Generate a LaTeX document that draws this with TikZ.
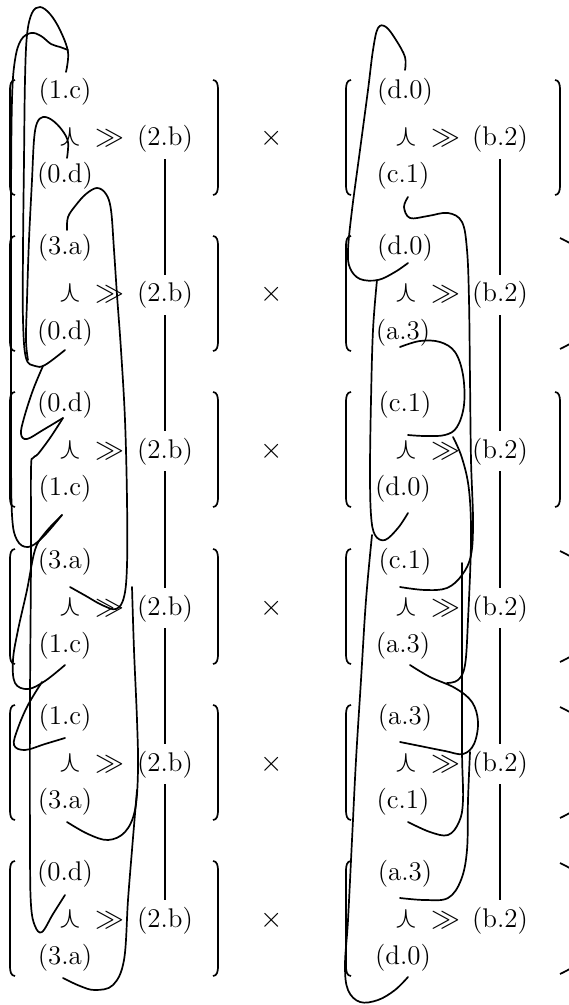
\documentclass[tikz,border=0pt]{standalone}
\usepackage{amsmath,amssymb}
\usepackage{tikz}
\usetikzlibrary{positioning}

\begin{document}
\begin{tikzpicture}[
  x=0.5pt, y=-0.5pt,
  lab/.style={font=\fontsize{13.5}{16}\selectfont, inner sep=3pt, anchor=base},
  sym/.style={font=\fontsize{15.5}{18}\selectfont, inner sep=3pt, anchor=base},
  strand/.style={line width=0.85pt, line cap=round, line join=round},
  brk/.style={line width=0.85pt},
  link/.style={line width=0.85pt}
]
\useasboundingbox (0,0) rectangle (568,1005);

% row 1
\node[lab] (l1t) at (65,99) {(1.c)};
\node[sym] (l1w) at (70,146) {$\curlywedge$};
\node[sym] (l1g) at (110,146) {$\gg$};
\node[lab] (l1r) at (165,146) {(2.b)};
\node[lab] (l1b) at (65,183) {(0.d)};
\node[sym] (x1) at (272,146) {$\times$};
\node[lab] (r1t) at (405,99) {(d.0)};
\node[sym] (r1w) at (406,146) {$\curlywedge$};
\node[sym] (r1g) at (446,146) {$\gg$};
\node[lab] (r1r) at (500,146) {(b.2)};
\node[lab] (r1b) at (403,183) {(c.1)};
% row 2
\node[lab] (l2t) at (65,255) {(3.a)};
\node[sym] (l2w) at (70,302) {$\curlywedge$};
\node[sym] (l2g) at (110,302) {$\gg$};
\node[lab] (l2r) at (165,302) {(2.b)};
\node[lab] (l2b) at (65,339) {(0.d)};
\node[sym] (x2) at (272,302) {$\times$};
\node[lab] (r2t) at (405,255) {(d.0)};
\node[sym] (r2w) at (406,302) {$\curlywedge$};
\node[sym] (r2g) at (446,302) {$\gg$};
\node[lab] (r2r) at (500,302) {(b.2)};
\node[lab] (r2b) at (403,339) {(a.3)};
% row 3
\node[lab] (l3t) at (65,411) {(0.d)};
\node[sym] (l3w) at (70,458) {$\curlywedge$};
\node[sym] (l3g) at (110,458) {$\gg$};
\node[lab] (l3r) at (165,458) {(2.b)};
\node[lab] (l3b) at (65,495) {(1.c)};
\node[sym] (x3) at (272,458) {$\times$};
\node[lab] (r3t) at (405,411) {(c.1)};
\node[sym] (r3w) at (406,458) {$\curlywedge$};
\node[sym] (r3g) at (446,458) {$\gg$};
\node[lab] (r3r) at (500,458) {(b.2)};
\node[lab] (r3b) at (403,495) {(d.0)};
% row 4
\node[lab] (l4t) at (65,568) {(3.a)};
\node[sym] (l4w) at (70,615) {$\curlywedge$};
\node[sym] (l4g) at (110,615) {$\gg$};
\node[lab] (l4r) at (165,615) {(2.b)};
\node[lab] (l4b) at (65,652) {(1.c)};
\node[sym] (x4) at (272,615) {$\times$};
\node[lab] (r4t) at (405,568) {(c.1)};
\node[sym] (r4w) at (406,615) {$\curlywedge$};
\node[sym] (r4g) at (446,615) {$\gg$};
\node[lab] (r4r) at (500,615) {(b.2)};
\node[lab] (r4b) at (403,652) {(a.3)};
% row 5
\node[lab] (l5t) at (65,724) {(1.c)};
\node[sym] (l5w) at (70,771) {$\curlywedge$};
\node[sym] (l5g) at (110,771) {$\gg$};
\node[lab] (l5r) at (165,771) {(2.b)};
\node[lab] (l5b) at (65,808) {(3.a)};
\node[sym] (x5) at (272,771) {$\times$};
\node[lab] (r5t) at (405,724) {(a.3)};
\node[sym] (r5w) at (406,771) {$\curlywedge$};
\node[sym] (r5g) at (446,771) {$\gg$};
\node[lab] (r5r) at (500,771) {(b.2)};
\node[lab] (r5b) at (403,808) {(c.1)};
% row 6
\node[lab] (l6t) at (65,880) {(0.d)};
\node[sym] (l6w) at (70,927) {$\curlywedge$};
\node[sym] (l6g) at (110,927) {$\gg$};
\node[lab] (l6r) at (165,927) {(2.b)};
\node[lab] (l6b) at (65,964) {(3.a)};
\node[sym] (x6) at (272,927) {$\times$};
\node[lab] (r6t) at (405,880) {(a.3)};
\node[sym] (r6w) at (406,927) {$\curlywedge$};
\node[sym] (r6g) at (446,927) {$\gg$};
\node[lab] (r6r) at (500,927) {(b.2)};
\node[lab] (r6b) at (403,964) {(d.0)};

% brackets
\foreach \m in {140,296,452,609,765,921} {
  \draw[brk] (15,\m-60) to[out=180,in=90] (10,\m-51) -- (10,\m+46) to[out=-90,in=180] (15,\m+55);
  \draw[brk] (213,\m-60) to[out=0,in=90] (218,\m-51) -- (218,\m+46) to[out=-90,in=0] (213,\m+55);
  \draw[brk] (351,\m-60) to[out=180,in=90] (346,\m-51) -- (346,\m+46) to[out=-90,in=180] (351,\m+55);
}
\foreach \m in {140,452} {
  \draw[brk] (555,\m-60) to[out=0,in=90] (560,\m-51) -- (560,\m+46) to[out=-90,in=0] (555,\m+55);
}
\foreach \m in {296,609,765,921} {
  \draw[brk] (560,\m-58) .. controls (620,\m-30) and (620,\m+25) .. (560,\m+53);
}

% links between the (2.b) and (b.2) nodes
\draw[link] (l1r) -- (l2r);
\draw[link] (l2r) -- (l3r);
\draw[link] (l3r) -- (l4r);
\draw[link] (l4r) -- (l5r);
\draw[link] (l5r) -- (l6r);
\draw[link] (r1r) -- (r2r);
\draw[link] (r2r) -- (r3r);
\draw[link] (r3r) -- (r4r);
\draw[link] (r4r) -- (r5r);
\draw[link] (r5r) -- (r6r);

% strands, left factor
\draw[strand] plot[smooth, tension=0.6] coordinates {(66,72) (68,52) (60,30) (50,14) (40,7) (32,13) (27,35) (25,80) (24,160) (23,250) (23,320) (26,358) (35,366) (45,365) (65,350)};
\draw[strand] plot[smooth, tension=0.6] coordinates {(68,50) (60,47) (51,44) (41,36) (31,33) (21,40) (15,60) (12,100) (11,200) (11,320) (11,440) (12,515) (17,540) (28,547) (42,538) (62,515)};
\draw[strand] plot[smooth, tension=0.6] coordinates {(67,158) (68,142) (62,130) (52,120) (43,117) (37,123) (34,140) (32,180) (29,240) (27,300) (26,340) (28,360)};
\draw[strand] plot[smooth, tension=0.6] coordinates {(67,230) (68,217) (76,205) (86,194) (97,188) (106,194) (111,210) (114,250) (117,295) (121,350) (125,420) (127,500) (127,565) (124,597) (116,609) (102,605) (86,596) (70,587)};
\draw[strand] plot[smooth, tension=0.6] coordinates {(132,587) (134,650) (137,720) (138,770) (135,810) (125,832) (108,840) (88,834) (67,822)};
\draw[strand] plot[smooth, tension=0.6] coordinates {(137,790) (132,850) (128,900) (124,960) (113,985) (95,990) (80,986) (63,978)};
\draw[strand] plot[smooth, tension=0.6] coordinates {(63,418) (50,438) (38,454) (33,458) (31,470) (31,560) (30,700) (30,850) (31,905) (35,926) (42,932) (53,914) (65,895)};
\draw[strand] plot[smooth, tension=0.6] coordinates {(43,366) (33,390) (24,418) (21,434) (27,439) (43,430) (63,418)};
\draw[strand] plot[smooth, tension=0.6] coordinates {(62,515) (45,533) (35,550) (27,590) (18,630) (13,660) (15,683) (28,689) (45,681) (65,665)};
\draw[strand] plot[smooth, tension=0.6] coordinates {(42,682) (28,705) (18,728) (14,745) (25,750) (45,744) (65,738)};

% strands, right factor
\draw[strand] plot[smooth, tension=0.6] coordinates {(405,70) (405,57) (396,40) (386,27) (378,28) (373,50) (368,90) (360,150) (352,210) (348,250) (350,268) (360,279) (378,280) (395,272) (408,263)};
\draw[strand] plot[smooth, tension=0.6] coordinates {(377,280) (373,330) (371,400) (370,470) (371,515) (375,535) (385,540) (398,528) (408,513)};
\draw[strand] plot[smooth, tension=0.6] coordinates {(372,535) (366,600) (361,680) (356,760) (352,840) (348,920) (345,965) (348,990) (360,1002) (378,1000) (395,990) (408,977)};
\draw[strand] plot[smooth, tension=0.6] coordinates {(408,197) (404,207) (410,218) (428,216) (448,213) (462,222) (467,250) (469,300) (470,380) (471,460) (473,520) (471,555) (462,575) (447,588) (425,590) (400,587)};
\draw[strand] plot[smooth, tension=0.6] coordinates {(400,347) (420,341) (440,342) (455,352) (463,375) (464,405) (457,427) (445,435) (425,436) (408,435)};
\draw[strand] plot[smooth, tension=0.6] coordinates {(453,437) (462,458) (469,490) (471,540) (468,620) (465,665) (458,680) (447,683)};
\draw[strand] plot[smooth, tension=0.6] coordinates {(462,563) (462,650) (462,750) (463,800) (459,822) (448,835) (430,832) (408,822)};
\draw[strand] plot[smooth, tension=0.6] coordinates {(410,665) (430,677) (455,688) (472,702) (478,722) (474,744) (463,754) (445,751) (420,746) (400,742)};
\draw[strand] plot[smooth, tension=0.6] coordinates {(470,752) (468,800) (467,850) (461,880) (448,898) (425,900) (400,898)};
\end{tikzpicture}
\end{document}
